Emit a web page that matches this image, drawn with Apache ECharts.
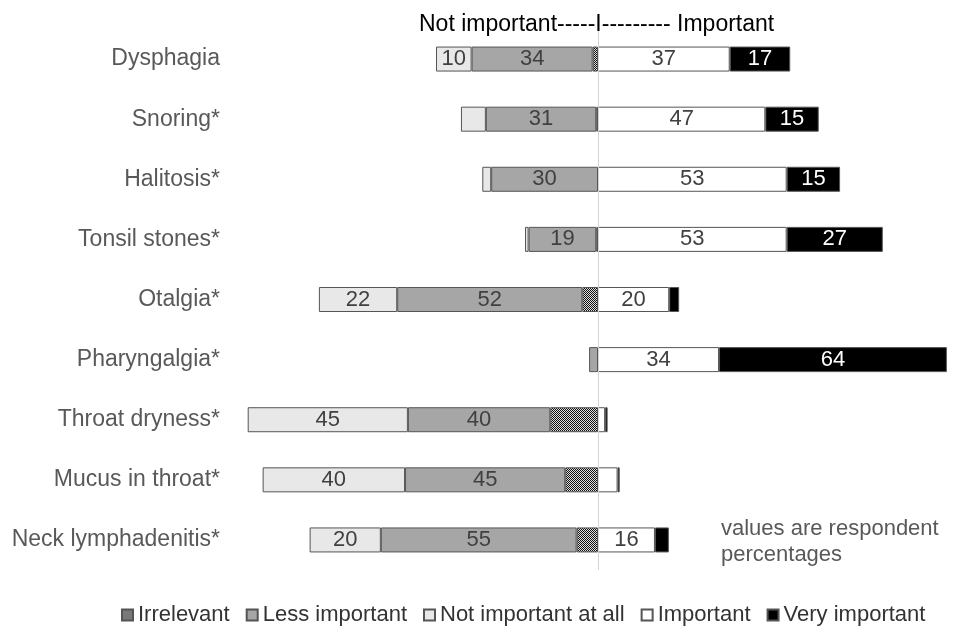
<!DOCTYPE html>
<html>
<head>
<meta charset="utf-8">
<title>Symptom importance</title>
<script src="https://cdn.jsdelivr.net/npm/echarts@6/dist/echarts.min.js"></script>
<style>
  html, body { margin: 0; padding: 0; background: #fff; }
  #chart { width: 954px; height: 627px; }
</style>
</head>
<body>
<div id="chart"></div>
<script>
// symptoms, top to bottom
var categories = ['Dysphagia', 'Snoring*', 'Halitosis*', 'Tonsil stones*', 'Otalgia*',
  'Pharyngalgia*', 'Throat dryness*', 'Mucus in throat*', 'Neck lymphadenitis*']

// respondent percentages (left side drawn as negative)
var irrelevant = [1.5, 0.5, 0, 0.5, 4.4, 0, 13.4, 9.2, 6]
var lessImportant = [34, 31, 30, 19, 52, 2.5, 40, 45, 55]
var notImportantAtAll = [10, 7, 2.5, 1, 22, 0, 45, 40, 20]
var important = [37, 47, 53, 53, 20, 34, 2, 5.5, 16]
var veryImportant = [17, 15, 15, 27, 2.8, 64, 0.7, 0.6, 3.9]

// checkered fill for "Irrelevant"
function makePattern () {
  var c = document.createElement('canvas')
  c.width = 2
  c.height = 2
  var ctx = c.getContext('2d')
  ctx.fillStyle = '#111'
  ctx.fillRect(0, 0, 2, 2)
  ctx.fillStyle = '#e0e0e0'
  ctx.fillRect(1, 0, 1, 1)
  ctx.fillRect(0, 1, 1, 1)
  return { image: c, repeat: 'repeat' }
}

function side (arr, sign) {
  return arr.map(function (v) { return v === 0 ? '-' : v * sign })
}

function barSeries (name, data, color, labelColor, showLabel) {
  return {
    name: name,
    type: 'bar',
    stack: 'total',
    barWidth: 25,
    data: data,
    itemStyle: {
      color: color,
      borderColor: '#555',
      borderWidth: 1
    },
    label: {
      show: showLabel,
      position: 'inside',
      fontFamily: 'Liberation Sans',
      fontSize: 22,
      color: labelColor,
      formatter: function (p) {
        var v = Math.abs(p.value)
        return v >= 10 ? Math.round(v) : ''
      }
    }
  }
}

var myChart = echarts.init(document.getElementById('chart'))

var series = [
  barSeries('Irrelevant', side(irrelevant, -1), makePattern(), '#404040', false),
  barSeries('Less important', side(lessImportant, -1), '#a6a6a6', '#404040', true),
  barSeries('Not important at all', side(notImportantAtAll, -1), '#e8e8e8', '#404040', true),
  barSeries('Important', side(important, 1), '#ffffff', '#404040', true),
  barSeries('Very important', side(veryImportant, 1), '#000000', '#ffffff', true)
]

// center divider
series[3].markLine = {
  silent: true,
  symbol: 'none',
  label: { show: false },
  lineStyle: { color: '#d4d4d4', width: 1, type: 'solid' },
  data: [{ xAxis: 0 }]
}

myChart.setOption({
  animation: false,
  textStyle: { fontFamily: 'Liberation Sans' },
  title: {
    text: 'Not important-----I--------- Important',
    left: 414,
    top: 8,
    textStyle: {
      fontFamily: 'Liberation Sans',
      fontSize: 23,
      fontWeight: 'normal',
      color: '#000'
    }
  },
  legend: {
    data: ['Irrelevant', 'Less important', 'Not important at all', 'Important', 'Very important'],
    icon: 'rect',
    left: 116,
    top: 599,
    itemWidth: 11,
    itemHeight: 11,
    itemGap: 16,
    textStyle: {
      fontFamily: 'Liberation Sans',
      fontSize: 22,
      color: '#333'
    }
  },
  grid: {
    left: 242,
    right: 0,
    top: 29,
    bottom: 57
  },
  xAxis: {
    type: 'value',
    min: -100,
    max: 100,
    show: false
  },
  yAxis: {
    type: 'category',
    inverse: true,
    data: categories,
    axisTick: { show: false },
    axisLine: { show: false },
    axisLabel: {
      margin: 22,
      fontFamily: 'Liberation Sans',
      fontSize: 23,
      color: '#595959'
    }
  },
  graphic: [
    {
      type: 'text',
      left: 721,
      top: 516,
      style: {
        text: 'values are respondent\npercentages',
        fontFamily: 'Liberation Sans',
        fontSize: 22,
        lineHeight: 26,
        fill: '#595959'
      }
    }
  ],
  series: series
})
</script>
</body>
</html>
